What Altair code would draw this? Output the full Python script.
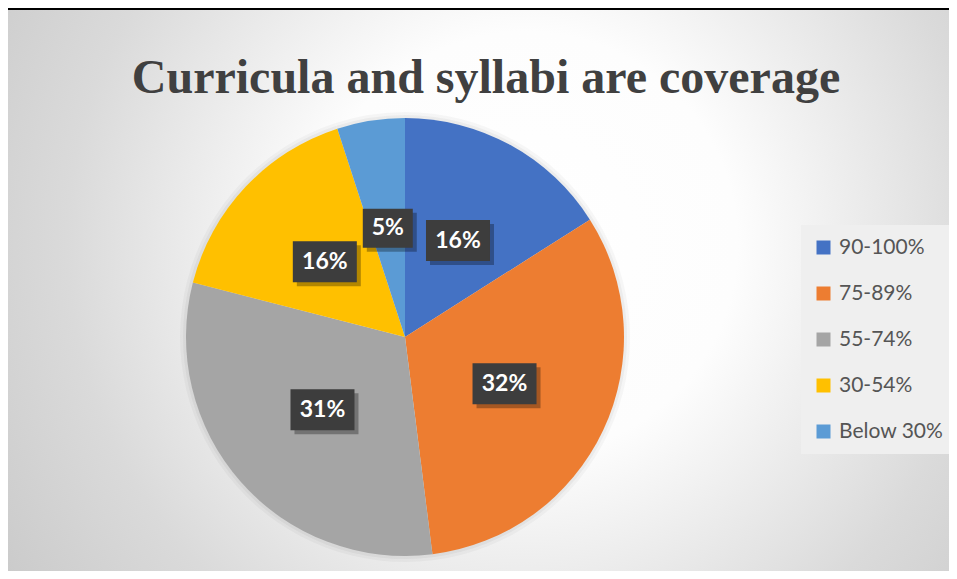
import altair as alt
import pandas as pd

# ---- data ----
categories = ["90-100%", "75-89%", "55-74%", "30-54%", "Below 30%"]
percent_values = [16, 32, 31, 16, 5]
slice_colors = ["#4472C4", "#ED7D31", "#A5A5A5", "#FFC000", "#5B9BD5"]
title_text = "Curricula and syllabi are coverage"

# ---- layout ----
W, H = 941, 563
CX, CY, R, LR = 397, 329, 219, 110

df = pd.DataFrame({
    "category": categories,
    "value": percent_values,
    "order": list(range(len(categories))),
    "label": [f"{v}%" for v in percent_values],
})

one = pd.DataFrame({"a": [0]})

bg = alt.Chart(one).mark_rect(
    fill={
        "gradient": "radial",
        "x1": 0.55, "y1": 0.45, "r1": 0.0,
        "x2": 0.55, "y2": 0.45, "r2": 0.75,
        "stops": [
            {"offset": 0.0, "color": "#ffffff"},
            {"offset": 0.3, "color": "#fdfdfd"},
            {"offset": 0.65, "color": "#dadada"},
            {"offset": 1.0, "color": "#c2c2c2"},
        ],
    }
).encode(x=alt.value(0), x2=alt.value(W), y=alt.value(2), y2=alt.value(H))

top_rule = alt.Chart(one).mark_rule(color="black", strokeWidth=2).encode(
    x=alt.value(0), x2=alt.value(W), y=alt.value(1)
)

base = alt.Chart(df)

glow1 = base.mark_arc(outerRadius=R + 6, fill="black", opacity=0.03).encode(
    theta=alt.Theta("value:Q", stack=True), order=alt.Order("order:Q"),
    x=alt.value(CX), y=alt.value(CY))
glow2 = base.mark_arc(outerRadius=R + 3, fill="black", opacity=0.04).encode(
    theta=alt.Theta("value:Q", stack=True), order=alt.Order("order:Q"),
    x=alt.value(CX), y=alt.value(CY))

pie = base.mark_arc(outerRadius=R).encode(
    theta=alt.Theta("value:Q", stack=True),
    order=alt.Order("order:Q"),
    color=alt.Color(
        "category:N",
        scale=alt.Scale(domain=categories, range=slice_colors),
        legend=alt.Legend(
            title=None, orient="none", legendX=793, legendY=217,
            symbolType="square", symbolSize=196, symbolStrokeWidth=0,
            symbolOpacity=1, labelFont="Lato", labelFontSize=21,
            labelColor="#555555", labelOffset=5, rowPadding=24,
            padding=12, fillColor="#efefef",
        ),
    ),
    x=alt.value(CX), y=alt.value(CY),
)

lab = base.transform_joinaggregate(total="sum(value)").transform_window(
    cum="sum(value)", sort=[alt.SortField("order")]
).transform_calculate(
    mid="(datum.cum - datum.value/2) / datum.total * 2 * PI",
    lx=f"{CX} + {LR} * sin(datum.mid)",
    ly=f"{CY} - {LR} * cos(datum.mid)",
    hw="length(datum.label) > 2 ? 32 : 25",
    hh="length(datum.label) > 2 ? 20.5 : 19.5",
    bx1="datum.lx - datum.hw",
    bx2="datum.lx + datum.hw",
    by1="datum.ly - datum.hh",
    by2="datum.ly + datum.hh",
    sx1="datum.bx1 + 4",
    sx2="datum.bx2 + 4",
    sy1="datum.by1 + 4",
    sy2="datum.by2 + 4",
)

shadow = lab.mark_rect(fill="black", opacity=0.3).encode(
    x=alt.X("sx1:Q", scale=None, axis=None), x2="sx2:Q",
    y=alt.Y("sy1:Q", scale=None, axis=None), y2="sy2:Q",
)
boxes = lab.mark_rect(fill="#3d3d3d").encode(
    x=alt.X("bx1:Q", scale=None, axis=None), x2="bx2:Q",
    y=alt.Y("by1:Q", scale=None, axis=None), y2="by2:Q",
)
texts = lab.mark_text(
    font="Lato", fontWeight="bold", fontSize=23, color="white",
    align="center", baseline="middle",
).encode(
    x=alt.X("lx:Q", scale=None, axis=None),
    y=alt.Y("ly:Q", scale=None, axis=None),
    text="label:N",
)

title = alt.Chart(pd.DataFrame({"t": [title_text]})).mark_text(
    font="Liberation Serif", fontWeight="bold", fontSize=48, color="#404040",
    align="center", baseline="alphabetic",
).encode(text="t:N", x=alt.value(478), y=alt.value(85))

chart = alt.layer(
    bg, top_rule, glow1, glow2, pie, shadow, boxes, texts, title
).properties(
    width=W, height=H, padding=0,
    autosize=alt.AutoSizeParams(type="none"),
    background="white",
).configure_view(stroke=None)

chart.save("out.html", embed_options={"renderer": "svg", "actions": False})
